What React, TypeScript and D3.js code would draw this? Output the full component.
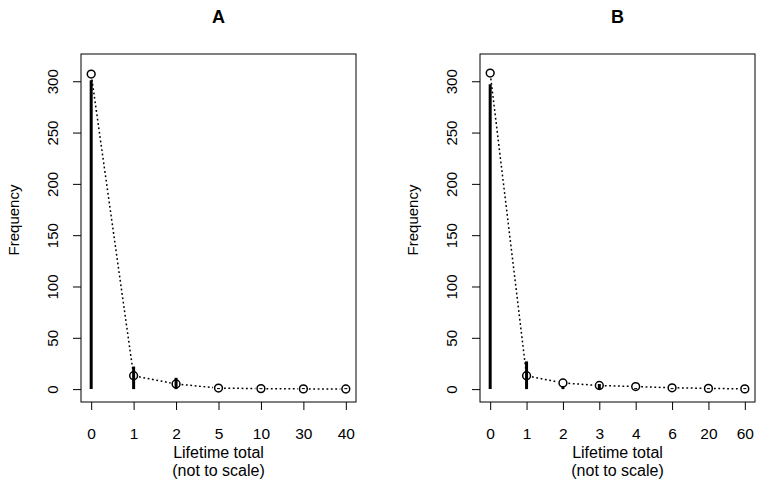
import React, {Component} from 'react';
import * as d3 from "d3"

// Panel A: lifetime totals and frequencies
const labelsA = ["0", "1", "2", "5", "10", "30", "40"]
const observedA = [301, 22, 11, 1, 1, 1, 1]
const fittedA = [307, 13, 5, 1, 0.5, 0.2, 0.1]

// Panel B
const labelsB = ["0", "1", "2", "3", "4", "6", "20", "60"]
const observedB = [297, 27, 3, 5, 1, 1, 1, 1]
const fittedB = [308, 13, 6, 3.5, 2.5, 1.3, 0.7, 0.2]

const yTicks = [0, 50, 100, 150, 200, 250, 300]
const titles = ["A", "B"]

interface AppProps {}
interface AppState {}

class App extends Component<AppProps, AppState> {
    drawPanel(svg: any, left: number, title: string, labels: string[], observed: number[], fitted: number[]) {
      const width = 275
      const top = 54
      const bottom = 402
      const right = left + width
      const font = "'Liberation Sans', Arial, sans-serif"
      const n = labels.length - 1
      const pad = n * 0.04

      let x = d3.scaleLinear()
                .domain([-pad, n + pad])
                .range([left, right])

      // R style ylim [0, 314] with 4% expansion
      let y = d3.scaleLinear()
                .domain([-314 * 0.04, 314 * 1.04])
                .range([bottom, top])

      const g = svg.append("g")

      // box
      g.append("rect")
        .attr("x", left).attr("y", top)
        .attr("width", width).attr("height", bottom - top)
        .attr("fill", "none").attr("stroke", "#000").attr("stroke-width", 1)

      // x axis
      let xAxis = (a: any) => a
                .attr("transform", `translate(0,${bottom})`)
                .call(d3.axisBottom(x).tickValues(d3.range(labels.length)).tickFormat((d: any) => labels[d]).tickSize(8).tickPadding(17.5))
                .call((a: any) => a.select(".domain").remove())
                .call((a: any) => a.selectAll(".tick line").attr("stroke", "#000"))
                .call((a: any) => a.selectAll(".tick text").attr("font-size", 15.5).attr("font-family", font).attr("fill", "#000"))
      g.append("g").call(xAxis)

      // y axis with rotated labels
      let yAxis = (a: any) => a
                .attr("transform", `translate(${left},0)`)
                .call(d3.axisLeft(y).tickValues(yTicks).tickSize(8))
                .call((a: any) => a.select(".domain").remove())
                .call((a: any) => a.selectAll(".tick line").attr("stroke", "#000"))
                .call((a: any) => a.selectAll(".tick text")
                  .attr("x", null).attr("dy", null)
                  .attr("transform", "translate(-23.5,0) rotate(-90)")
                  .attr("text-anchor", "middle")
                  .attr("font-size", 15).attr("font-family", font).attr("fill", "#000"))
      g.append("g").call(yAxis)

      // titles
      g.append("text")
        .attr("x", (left + right) / 2).attr("y", 22.5)
        .attr("text-anchor", "middle")
        .attr("font-weight", "bold").attr("font-size", 18).attr("font-family", font)
        .text(title)

      g.append("text")
        .attr("x", (left + right) / 2).attr("y", 457.5)
        .attr("text-anchor", "middle")
        .attr("font-size", 16).attr("font-family", font)
        .text("Lifetime total")
      g.append("text")
        .attr("x", (left + right) / 2).attr("y", 476)
        .attr("text-anchor", "middle")
        .attr("font-size", 16).attr("font-family", font)
        .text("(not to scale)")

      g.append("text")
        .attr("transform", `translate(${left - 62},220) rotate(-90)`)
        .attr("text-anchor", "middle")
        .attr("font-size", 15).attr("font-family", font)
        .text("Frequency")

      // observed counts as thick vertical lines
      g.append("g")
        .selectAll("line")
        .data(observed)
        .join("line")
          .attr("x1", (d: number, i: number) => x(i))
          .attr("x2", (d: number, i: number) => x(i))
          .attr("y1", y(0))
          .attr("y2", (d: number) => y(d))
          .attr("stroke", "#000")
          .attr("stroke-width", 3)

      // dotted line between fitted points, leaving a gap round each point (type = "b")
      const pts = fitted.map((d, i) => [x(i), y(d)])
      const gap = 5.5
      g.append("g")
        .selectAll("line")
        .data(d3.pairs(pts))
        .join("line")
          .each(function (this: any, d: any) {
            const [[x1, y1], [x2, y2]] = d
            const len = Math.hypot(x2 - x1, y2 - y1)
            const ux = (x2 - x1) / len, uy = (y2 - y1) / len
            d3.select(this)
              .attr("x1", x1 + ux * gap).attr("y1", y1 + uy * gap)
              .attr("x2", x2 - ux * gap).attr("y2", y2 - uy * gap)
          })
          .attr("stroke", "#000")
          .attr("stroke-width", 1.5)
          .attr("stroke-dasharray", "1.8,2.6")

      // fitted points
      g.append("g")
        .selectAll("circle")
        .data(fitted)
        .join("circle")
          .attr("cx", (d: number, i: number) => x(i))
          .attr("cy", (d: number) => y(d))
          .attr("r", 3.9)
          .attr("fill", "none")
          .attr("stroke", "#000")
          .attr("stroke-width", 1.5)
    }

    componentDidMount() {
      document.body.style.margin = "0"
      const el = document.getElementById("chart") as HTMLElement
      el.innerHTML = ""
      const svg = d3.select(el).append("svg")
        .attr("width", 762).attr("height", 488)
        .style("display", "block")
        .style("background", "#fff")

      this.drawPanel(svg, 81, titles[0], labelsA, observedA, fittedA)
      this.drawPanel(svg, 480, titles[1], labelsB, observedB, fittedB)
    }

    public render(): JSX.Element {
        return (
            <div id='chart' style={{width: 762, height: 488}}></div>
        )
    }
}
export default App;
